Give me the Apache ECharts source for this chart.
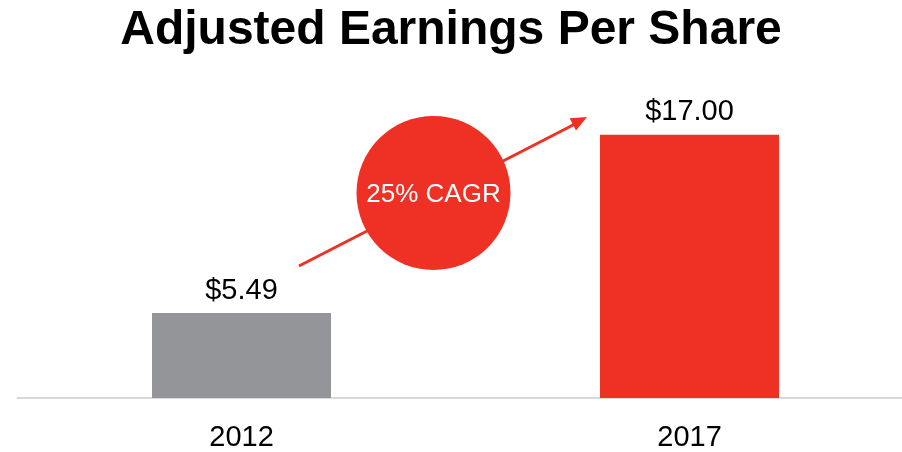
<!DOCTYPE html>
<html>
<head>
<meta charset="utf-8">
<script src="https://cdn.jsdelivr.net/npm/echarts@6/dist/echarts.min.js"></script>
<style>
  html, body { margin: 0; padding: 0; background: #ffffff; }
  #chart { width: 902px; height: 452px; }
</style>
</head>
<body>
<div id="chart"></div>
<script>
// Adjusted EPS, 2012 vs 2017
const years = ['2012', '2017'];
const eps = [5.49, 17.00];
const barColors = ['#939598', '#ee3124'];
const cagrText = '25% CAGR';

const FONT = '"Liberation Sans", Arial, Helvetica, sans-serif';

const chart = echarts.init(document.getElementById('chart'), null, { renderer: 'canvas' });

chart.setOption({
  animation: false,
  backgroundColor: '#ffffff',
  title: {
    text: 'Adjusted Earnings Per Share',
    left: 'center',
    top: 2,
    textStyle: { fontFamily: FONT, fontSize: 48, fontWeight: 'bold', color: '#000000' }
  },
  grid: { left: 17.5, right: 0, top: 88.4, bottom: 53 },
  // year slots are positions 0 and 1; the range leaves room for the baseline to run to the edge
  xAxis: {
    type: 'value',
    min: -0.5,
    max: 1.4743,
    splitLine: { show: false },
    axisLine: { show: true, onZero: false, lineStyle: { color: '#d9d9d9', width: 2 } },
    axisTick: { show: false },
    axisLabel: {
      customValues: years.map((y, i) => i),
      formatter: v => years[Math.round(v)],
      fontFamily: FONT,
      fontSize: 29,
      color: '#000000',
      margin: 25
    }
  },
  yAxis: {
    type: 'value',
    min: 0,
    max: 20,
    show: false,
    splitLine: { show: false }
  },
  series: [{
    type: 'bar',
    barWidth: 179,
    data: eps.map((v, i) => ({ value: [i, v], itemStyle: { color: barColors[i] } })),
    label: {
      show: true,
      position: 'top',
      distance: 8,
      fontFamily: FONT,
      fontSize: 29,
      color: '#000000',
      formatter: p => '$' + p.value[1].toFixed(2)
    }
  }],
  graphic: [
    // growth arrow
    {
      type: 'line',
      shape: { x1: 299, y1: 266, x2: 575, y2: 124 },
      style: { stroke: '#ee3124', lineWidth: 3 },
      z: 10
    },
    {
      type: 'polygon',
      shape: { points: [[587, 117], [576.0, 130.6], [569.6, 118.2]] },
      style: { fill: '#ee3124' },
      z: 10
    },
    // CAGR badge
    {
      type: 'circle',
      shape: { cx: 433.5, cy: 193, r: 77 },
      style: { fill: '#ee3124' },
      z: 11
    },
    {
      type: 'text',
      x: 433.5,
      y: 195,
      style: {
        text: cagrText,
        fill: '#ffffff',
        font: '26px ' + FONT,
        align: 'center',
        verticalAlign: 'middle'
      },
      z: 12
    }
  ]
});
</script>
</body>
</html>
